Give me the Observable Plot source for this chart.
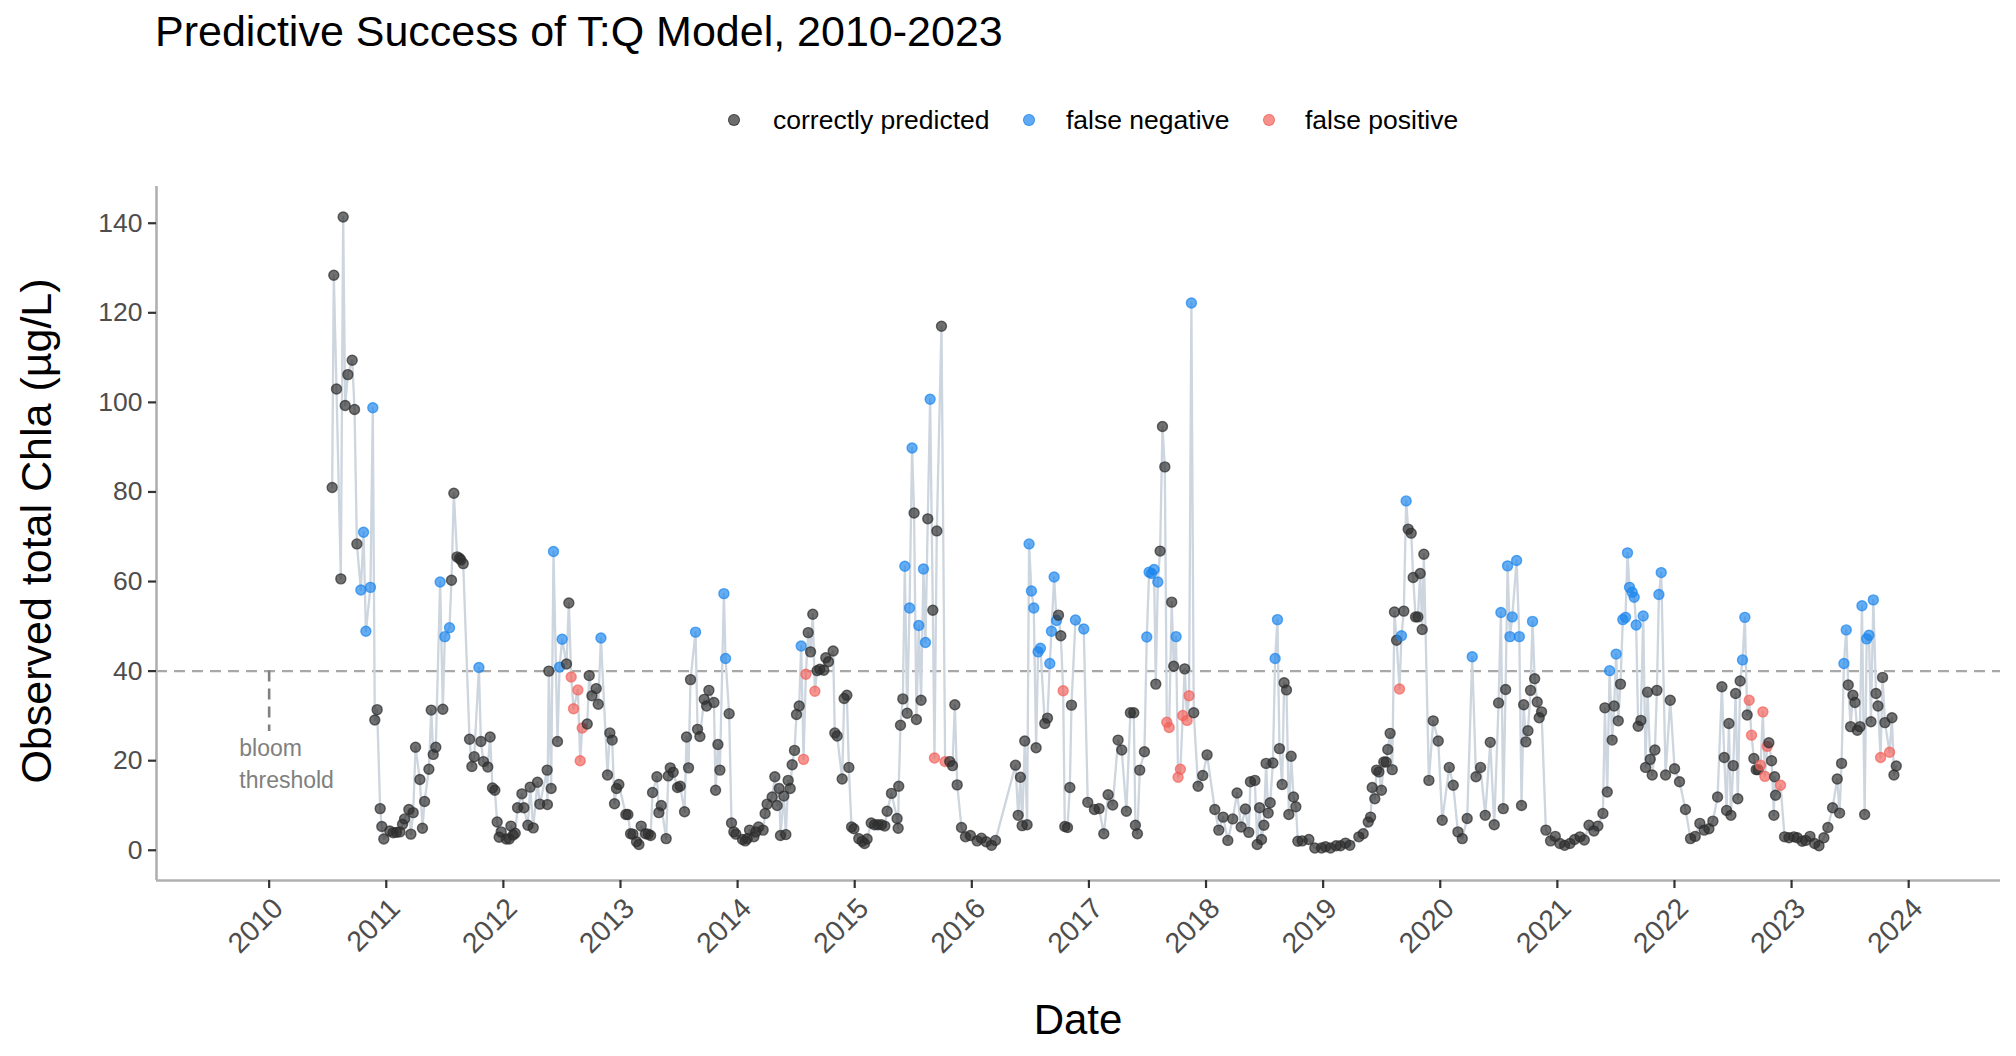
<!DOCTYPE html>
<html><head><meta charset="utf-8">
<script src="https://cdn.jsdelivr.net/npm/d3@7"></script>
<script src="https://cdn.jsdelivr.net/npm/@observablehq/plot@0.6"></script>
<style>
body{margin:0;background:#fff;font-family:"Liberation Sans",Arial,Helvetica,sans-serif;}
#wrap{position:relative;width:2016px;height:1056px;overflow:hidden;background:#fff}
#wrap svg{position:absolute;left:0;top:0}
.abs{position:absolute;white-space:nowrap;line-height:1}
.dot{position:absolute;width:12px;height:12px;border-radius:50%;box-sizing:border-box}
</style></head><body><div id="wrap"></div>
<script>
const categories = ["correctly predicted", "false negative", "false positive"];
const categoryColors = ["#2e2e2e", "#1C86EE", "#F2625B"];
const yTicks = [0, 20, 40, 60, 80, 100, 120, 140];
const xTicks = [2010, 2011, 2012, 2013, 2014, 2015, 2016, 2017, 2018, 2019, 2020, 2021, 2022, 2023, 2024];
const bloomThreshold = 40;
const annotationLines = ["bloom", "threshold"];

// sample dates as decimal years
const dates = [
2010.538,2010.552,2010.575,2010.612,2010.632,2010.649,2010.672,2010.709,2010.729,2010.749,
2010.783,2010.806,2010.826,2010.865,2010.885,2010.902,2010.922,2010.948,2010.962,2010.979,
2011.030,2011.059,2011.087,2011.116,2011.139,2011.156,2011.193,2011.210,2011.230,2011.250,
2011.287,2011.309,2011.327,2011.364,2011.384,2011.401,2011.423,2011.460,2011.483,2011.500,
2011.540,2011.557,2011.577,2011.605,2011.625,2011.637,2011.657,2011.711,2011.731,2011.751,
2011.791,2011.808,2011.830,2011.867,2011.887,2011.907,2011.927,2011.947,2011.964,2011.981,
2012.024,2012.050,2012.064,2012.084,2012.101,2012.121,2012.158,2012.175,2012.209,2012.229,
2012.255,2012.291,2012.311,2012.374,2012.376,2012.388,2012.408,2012.428,2012.462,2012.480,
2012.502,2012.539,2012.559,2012.579,2012.599,2012.636,2012.656,2012.673,2012.716,2012.733,
2012.756,2012.793,2012.810,2012.833,2012.889,2012.909,2012.929,2012.949,2012.966,2012.986,
2013.046,2013.063,2013.086,2013.106,2013.137,2013.157,2013.177,2013.214,2013.237,2013.257,
2013.274,2013.311,2013.328,2013.348,2013.390,2013.408,2013.425,2013.450,2013.487,2013.510,
2013.547,2013.564,2013.581,2013.598,2013.641,2013.658,2013.678,2013.715,2013.735,2013.755,
2013.798,2013.812,2013.832,2013.849,2013.883,2013.897,2013.928,2013.948,2013.968,2013.985,
2014.042,2014.065,2014.082,2014.102,2014.139,2014.156,2014.179,2014.218,2014.235,2014.252,
2014.295,2014.318,2014.338,2014.355,2014.366,2014.395,2014.412,2014.432,2014.449,2014.466,
2014.486,2014.503,2014.526,2014.543,2014.563,2014.583,2014.603,2014.623,2014.642,2014.660,
2014.679,2014.702,2014.736,2014.753,2014.776,2014.816,2014.830,2014.850,2014.893,2014.910,
2014.933,2014.950,2014.973,2014.993,2015.035,2015.064,2015.084,2015.106,2015.141,2015.169,
2015.198,2015.229,2015.257,2015.277,2015.314,2015.362,2015.371,2015.376,2015.391,2015.411,
2015.428,2015.448,2015.468,2015.490,2015.507,2015.527,2015.547,2015.567,2015.587,2015.604,
2015.624,2015.644,2015.667,2015.681,2015.701,2015.741,2015.772,2015.812,2015.835,2015.855,
2015.875,2015.912,2015.946,2015.988,2016.045,2016.082,2016.122,2016.168,2016.202,2016.373,
2016.396,2016.415,2016.430,2016.452,2016.472,2016.489,2016.509,2016.529,2016.549,2016.566,
2016.586,2016.623,2016.646,2016.666,2016.680,2016.703,2016.723,2016.740,2016.760,2016.780,
2016.794,2016.817,2016.837,2016.851,2016.885,2016.956,2016.990,2017.047,2017.087,2017.127,
2017.164,2017.203,2017.249,2017.280,2017.320,2017.354,2017.383,2017.397,2017.414,2017.434,
2017.474,2017.494,2017.514,2017.534,2017.556,2017.571,2017.588,2017.608,2017.628,2017.648,
2017.665,2017.685,2017.707,2017.724,2017.744,2017.761,2017.781,2017.801,2017.818,2017.838,
2017.855,2017.875,2017.895,2017.932,2017.972,2018.009,2018.075,2018.109,2018.146,2018.186,
2018.228,2018.265,2018.300,2018.336,2018.365,2018.379,2018.417,2018.437,2018.457,2018.474,
2018.494,2018.513,2018.531,2018.548,2018.571,2018.590,2018.610,2018.627,2018.650,2018.667,
2018.687,2018.707,2018.727,2018.747,2018.767,2018.784,2018.821,2018.878,2018.929,2018.986,
2019.020,2019.063,2019.111,2019.148,2019.191,2019.228,2019.305,2019.342,2019.385,2019.405,
2019.419,2019.441,2019.456,2019.476,2019.498,2019.518,2019.538,2019.552,2019.572,2019.590,
2019.609,2019.627,2019.652,2019.669,2019.689,2019.709,2019.726,2019.752,2019.769,2019.789,
2019.809,2019.829,2019.846,2019.860,2019.903,2019.940,2019.983,2020.017,2020.077,2020.111,
2020.151,2020.188,2020.230,2020.273,2020.305,2020.344,2020.384,2020.427,2020.461,2020.498,
2020.518,2020.538,2020.558,2020.575,2020.595,2020.615,2020.652,2020.675,2020.694,2020.712,
2020.731,2020.749,2020.771,2020.788,2020.806,2020.828,2020.845,2020.865,2020.902,2020.942,
2020.982,2021.022,2021.062,2021.107,2021.147,2021.193,2021.230,2021.270,2021.312,2021.346,
2021.389,2021.406,2021.426,2021.446,2021.468,2021.485,2021.502,2021.520,2021.539,2021.559,
2021.582,2021.599,2021.616,2021.639,2021.656,2021.673,2021.690,2021.713,2021.733,2021.753,
2021.770,2021.793,2021.810,2021.833,2021.850,2021.867,2021.887,2021.924,2021.964,2022.001,
2022.043,2022.094,2022.137,2022.177,2022.217,2022.254,2022.294,2022.328,2022.368,2022.405,
2022.425,2022.445,2022.465,2022.482,2022.502,2022.522,2022.541,2022.561,2022.581,2022.601,
2022.621,2022.638,2022.658,2022.678,2022.698,2022.715,2022.735,2022.755,2022.772,2022.792,
2022.806,2022.829,2022.849,2022.855,2022.863,2022.906,2022.940,2022.978,2023.020,2023.049,
2023.091,2023.120,2023.157,2023.197,2023.234,2023.276,2023.310,2023.350,2023.390,2023.410,
2023.427,2023.447,2023.467,2023.484,2023.504,2023.524,2023.541,2023.561,2023.584,2023.601,
2023.624,2023.641,2023.661,2023.678,2023.698,2023.721,2023.738,2023.760,2023.777,2023.797,
2023.837,2023.857,2023.874,2023.894
];

// observed total Chla (µg/L)
const chla = [
81.0,128.4,103.0,60.6,141.4,99.3,106.2,109.4,98.4,68.4,
58.1,71.0,48.9,58.7,98.8,29.1,31.4,9.3,5.3,2.5,
4.3,3.9,4.0,4.1,5.8,7.0,9.1,3.6,8.4,23.0,
15.8,4.9,10.9,18.1,31.3,21.4,23.0,59.9,31.5,47.7,
49.7,60.3,79.7,65.5,65.2,64.8,64.0,24.8,18.7,20.9,
40.8,24.3,19.8,18.6,25.3,13.9,13.4,6.3,2.9,4.1,
2.5,2.5,5.4,3.4,3.8,9.5,12.6,9.5,5.6,14.1,
5.0,15.2,10.3,17.9,10.2,40.0,13.8,66.7,24.3,40.9,
47.1,41.6,55.2,38.7,31.6,35.8,20.0,27.3,28.2,39.0,
34.5,36.1,32.6,47.4,16.8,26.2,24.6,10.4,13.8,14.7,
8.0,8.0,3.7,3.6,1.9,1.3,5.4,3.7,3.6,3.3,
12.9,16.4,8.4,10.0,2.6,16.6,18.4,17.4,14.0,14.3,
8.6,25.3,18.4,38.1,48.7,27.0,25.4,33.7,32.2,35.7,
33.0,13.4,23.6,17.9,57.3,42.8,30.5,6.1,4.1,3.6,
2.4,2.1,2.6,4.5,3.0,4.1,5.2,4.5,8.2,10.3,
11.9,16.4,10.0,13.8,3.3,12.1,3.5,15.6,13.8,19.1,
22.3,30.3,32.2,45.6,20.3,39.3,48.6,44.3,52.7,35.5,
40.1,40.4,40.2,43.0,42.1,44.5,26.2,25.5,15.9,33.9,
34.6,18.5,5.2,4.8,2.6,2.0,1.5,2.5,6.1,5.7,
5.7,5.7,5.4,8.7,12.7,7.1,4.9,14.3,27.9,33.8,
63.4,30.6,54.1,89.8,75.3,29.2,50.2,33.5,62.8,46.4,
74.0,100.7,53.6,20.6,71.3,117.0,19.8,19.8,18.9,32.5,
14.6,5.1,3.0,3.3,2.1,2.7,1.9,1.1,2.2,19.0,
7.8,16.3,5.5,24.4,5.7,68.4,57.9,54.1,22.9,44.3,
45.1,28.3,29.5,41.7,48.9,61.0,51.3,52.5,47.9,35.6,
5.3,5.1,14.0,32.4,51.4,49.4,10.7,9.1,9.3,3.7,
12.4,10.1,24.6,22.4,8.7,30.7,30.7,5.6,3.7,17.9,
22.0,47.6,62.1,61.8,62.7,37.1,59.9,66.8,94.6,85.6,
28.6,27.4,55.4,41.1,47.7,16.3,18.1,30.1,40.5,29.0,
34.5,122.2,30.7,14.3,16.7,21.3,9.1,4.5,7.4,2.2,
7.0,12.8,5.2,9.2,4.0,15.3,15.6,1.3,9.5,2.4,
5.6,19.4,8.3,10.6,19.5,42.8,51.5,22.7,14.7,37.4,
35.8,8.0,21.0,11.9,9.7,2.0,2.1,2.4,0.5,0.5,
0.8,0.5,1.0,1.0,1.6,1.1,3.0,3.7,6.3,7.4,
14.0,11.5,17.9,17.5,13.4,19.7,19.7,22.5,26.1,18.0,
53.2,46.9,36.0,47.9,53.4,78.0,71.7,70.8,60.9,52.1,
52.1,61.8,49.3,66.1,15.6,28.9,24.4,6.7,18.5,14.5,
4.1,2.6,7.1,43.2,16.4,18.5,7.8,24.1,5.7,32.9,
53.1,9.3,35.9,63.5,47.7,52.1,64.7,47.7,10.0,32.5,
24.2,26.7,35.7,51.1,38.3,33.1,29.6,30.9,4.5,2.1,
3.1,1.5,1.1,1.5,2.4,3.0,2.3,5.6,4.3,5.4,
8.2,31.8,13.0,40.1,24.6,32.2,43.8,28.9,37.1,51.5,
52.0,66.4,58.7,57.6,56.5,50.3,27.7,29.0,52.3,18.5,
35.3,20.3,16.8,22.4,35.7,57.1,62.0,16.8,33.5,18.2,
15.3,9.1,2.6,3.1,6.0,4.5,4.8,6.5,11.9,36.5,
20.7,8.9,28.3,7.8,18.9,35.0,11.5,37.8,42.5,52.0,
30.2,33.5,25.7,20.5,18.0,18.0,19.0,30.9,16.5,23.2,
24.0,20.0,7.8,16.4,12.3,14.5,3.0,2.8,3.0,2.8,
2.0,2.2,3.1,1.5,1.0,2.8,5.1,9.5,15.9,8.3,
19.4,41.7,49.2,36.9,27.6,34.6,33.0,26.8,27.6,54.6,
8.0,47.2,48.0,28.7,55.9,35.0,32.2,20.7,38.6,28.5,
21.9,29.6,16.8,18.8
];

// index into categories: 0 correctly predicted, 1 false negative, 2 false positive
const outcome = [
0,0,0,0,0,0,0,0,0,0,
1,1,1,1,1,0,0,0,0,0,
0,0,0,0,0,0,0,0,0,0,
0,0,0,0,0,0,0,1,0,1,
1,0,0,0,0,0,0,0,0,0,
1,0,0,0,0,0,0,0,0,0,
0,0,0,0,0,0,0,0,0,0,
0,0,0,0,0,0,0,1,0,1,
1,0,0,2,2,2,2,2,0,0,
0,0,0,1,0,0,0,0,0,0,
0,0,0,0,0,0,0,0,0,0,
0,0,0,0,0,0,0,0,0,0,
0,0,0,0,1,0,0,0,0,0,
0,0,0,0,1,1,0,0,0,0,
0,0,0,0,0,0,0,0,0,0,
0,0,0,0,0,0,0,0,0,0,
0,0,0,1,2,2,0,0,0,2,
0,0,0,0,0,0,0,0,0,0,
0,0,0,0,0,0,0,0,0,0,
0,0,0,0,0,0,0,0,0,0,
1,0,1,1,0,0,1,0,1,1,
0,1,0,2,0,0,2,0,0,0,
0,0,0,0,0,0,0,0,0,0,
0,0,0,0,0,1,1,1,0,1,
1,0,0,1,1,1,1,0,0,2,
0,0,0,0,1,1,0,0,0,0,
0,0,0,0,0,0,0,0,0,0,
0,1,1,1,1,0,1,0,0,0,
2,2,0,0,1,2,2,2,0,2,
2,1,0,0,0,0,0,0,0,0,
0,0,0,0,0,0,0,0,0,0,
0,0,0,0,0,1,1,0,0,0,
0,0,0,0,0,0,0,0,0,0,
0,0,0,0,0,0,0,0,0,0,
0,0,0,0,0,0,0,0,0,0,
0,0,2,1,0,1,0,0,0,0,
0,0,0,0,0,0,0,0,0,0,
0,0,0,1,0,0,0,0,0,0,
1,0,0,1,1,1,1,1,0,0,
0,0,0,1,0,0,0,0,0,0,
0,0,0,0,0,0,0,0,0,0,
0,0,0,1,0,0,1,0,0,1,
1,1,1,1,1,1,0,0,1,0,
0,0,0,0,0,1,1,0,0,0,
0,0,0,0,0,0,0,0,0,0,
0,0,0,0,0,0,0,0,1,1,
0,2,2,0,0,0,2,2,2,2,
0,0,0,0,0,2,0,0,0,0,
0,0,0,0,0,0,0,0,0,0,
0,1,1,0,0,0,0,0,0,1,
0,1,1,0,1,0,0,2,0,0,
2,0,0,0
];

const rows = dates.map((d, i) => ({date: d, chla: chla[i], outcome: categories[outcome[i]]}));

const W = 2016, H = 1056;
const xDomain = [2009.038, 2024.784];
const yDomain = [-6.75, 148.2];

const plot = Plot.plot({
  width: W, height: H,
  marginLeft: 156, marginRight: 16, marginTop: 186, marginBottom: 176,
  style: {fontFamily: "Liberation Sans, Arial, Helvetica, sans-serif", fontSize: "26px", color: "#4d4d4d", background: "white", overflow: "visible"},
  x: {domain: xDomain},
  y: {domain: yDomain},
  color: {domain: categories, range: categoryColors},
  marks: [
    Plot.ruleY([bloomThreshold], {stroke: "#a8a8a8", strokeWidth: 2.2, strokeDasharray: "11,7"}),
    Plot.ruleX([2010], {y1: bloomThreshold, y2: 26.5, stroke: "#808080", strokeWidth: 2.6, strokeDasharray: "11,7"}),
    Plot.text(annotationLines, {x: 2009.745, y: [22.8, 15.6], text: d => d, textAnchor: "start", lineAnchor: "middle", fill: "#808080", fontSize: 23}),
    Plot.line(rows, {x: "date", y: "chla", stroke: "#CDD5DF", strokeWidth: 2.3}),
    Plot.dot(rows, {x: "date", y: "chla", r: 5, fill: "outcome", stroke: "outcome", fillOpacity: 0.68, strokeOpacity: 0.7, strokeWidth: 1.4}),
    Plot.ruleX([xDomain[0]], {stroke: "#b0b0b0", strokeWidth: 2.6}),
    Plot.ruleY([yDomain[0]], {stroke: "#b0b0b0", strokeWidth: 2.6}),
    Plot.axisY({ticks: yTicks, tickSize: 8, tickPadding: 6, label: null, fontSize: 26.5, stroke: "#333333", strokeWidth: 2.2, fill: "#4d4d4d"}),
    // x tick marks only
    Plot.axisX({ticks: xTicks, tickSize: 8, label: null, stroke: "#333333", strokeWidth: 2.2, fill: "none"}),
    // x tick labels only, rotated
    Plot.axisX({ticks: xTicks, tickFormat: d => String(d), tickSize: 0, tickPadding: 16, tickRotate: -45, label: null, fontSize: 28.5, dx: 9, dy: 7, fill: "#4d4d4d"})
  ]
});

const wrap = document.getElementById("wrap");
wrap.appendChild(plot);

function addText(txt, css) {
  const d = document.createElement("div");
  d.className = "abs";
  d.textContent = txt;
  Object.assign(d.style, css);
  wrap.appendChild(d);
  return d;
}
// title
addText("Predictive Success of T:Q Model, 2010-2023", {left: "155px", top: "10px", fontSize: "43px", color: "#000"});
// axis titles
addText("Date", {left: "1078px", top: "999px", fontSize: "42px", color: "#000", transform: "translateX(-50%)"});
addText("Observed total Chla (µg/L)", {left: "36px", top: "531px", fontSize: "43px", color: "#000", transform: "translate(-50%,-50%) rotate(-90deg)"});
// legend
const legendDotX = [734, 1029, 1269];
const legendTextX = [773, 1066, 1305];
categories.forEach((c, i) => {
  const dot = document.createElement("div");
  dot.className = "dot";
  const f = d3.color(categoryColors[i]).copy({opacity: 0.7});
  dot.style.left = (legendDotX[i] - 6) + "px";
  dot.style.top = (119.6 - 6) + "px";
  dot.style.background = f.formatRgb();
  dot.style.border = "1.4px solid " + f.formatRgb();
  wrap.appendChild(dot);
  addText(c, {left: legendTextX[i] + "px", top: (119.6 - 14) + "px", fontSize: "26.5px", color: "#000", lineHeight: "28px"});
});
</script></body></html>
